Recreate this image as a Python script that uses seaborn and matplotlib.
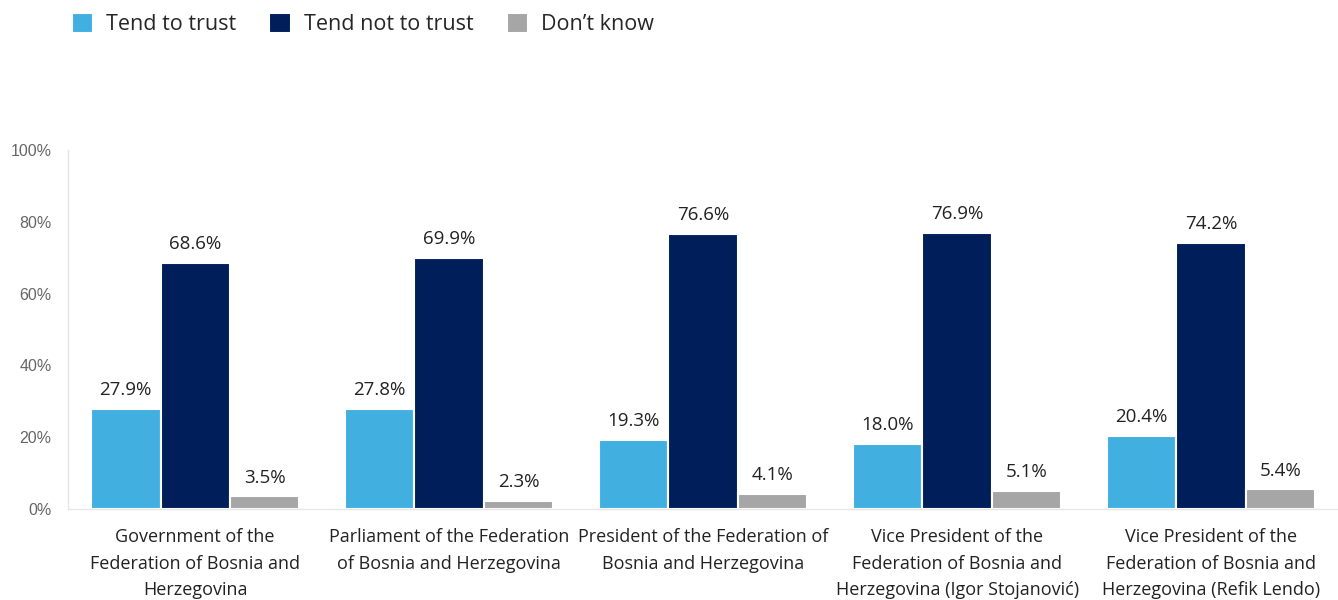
import seaborn as sns
import matplotlib.pyplot as plt
import pandas as pd

# Chart data
categories = [
    "Government of the\nFederation of Bosnia and\nHerzegovina",
    "Parliament of the Federation\nof Bosnia and Herzegovina",
    "President of the Federation of\nBosnia and Herzegovina",
    "Vice President of the\nFederation of Bosnia and\nHerzegovina (Igor Stojanović)",
    "Vice President of the\nFederation of Bosnia and\nHerzegovina (Refik Lendo)",
]
series_names = ["Tend to trust", "Tend not to trust", "Don’t know"]
tend_to_trust = [27.9, 27.8, 19.3, 18.0, 20.4]
tend_not_to_trust = [68.6, 69.9, 76.6, 76.9, 74.2]
dont_know = [3.5, 2.3, 4.1, 5.1, 5.4]
y_ticks = [0, 20, 40, 60, 80, 100]

colors = ["#41B0E1", "#001E5A", "#A6A6A6"]

# long-form table for seaborn
rows = []
for name, vals in zip(series_names, [tend_to_trust, tend_not_to_trust, dont_know]):
    for cat, v in zip(categories, vals):
        rows.append({"category": cat, "series": name, "value": v})
df = pd.DataFrame(rows)

sns.set_style("white")
plt.rcParams['font.family'] = ['Open Sans', 'DejaVu Sans']

fig = plt.figure(figsize=(13.38, 6), dpi=100)
ax = fig.add_axes([0.051, 0.152, 0.949, 0.598])

sns.barplot(data=df, x="category", y="value", hue="series", hue_order=series_names,
            palette=colors, width=0.82, edgecolor="white", linewidth=1.5,
            saturation=1, ax=ax, legend=True)

for container in ax.containers:
    ax.bar_label(container, fmt="%.1f%%", padding=7, fontsize=13.5, color="#222222")

ax.set_ylim(0, 100)
ax.set_xlim(-0.5, 4.5)
ax.set_yticks(y_ticks)
ax.set_yticklabels([f"{t}%" for t in y_ticks], fontsize=11.5, color="#666666",
                   family=['Liberation Sans'])
ax.set_xticks(range(len(categories)))
ax.set_xticklabels(categories, fontsize=13, color="#222222", linespacing=1.6)
ax.tick_params(axis="x", length=0, pad=14)
ax.tick_params(axis="y", length=0, pad=12)
ax.set_xlabel("")
ax.set_ylabel("")

for side in ["top", "right"]:
    ax.spines[side].set_visible(False)
for side in ["left", "bottom"]:
    ax.spines[side].set_color("#E6E6E6")
    ax.spines[side].set_linewidth(1)

handles, labels = ax.get_legend_handles_labels()
ax.legend_.remove()
fig.legend(handles, labels, loc="upper left", bbox_to_anchor=(0.039, 1.01),
           ncol=3, frameon=False, fontsize=15.5, handlelength=1.0, handleheight=1.0,
           columnspacing=1.55, handletextpad=0.6)

fig.savefig("out.png", dpi=100)
